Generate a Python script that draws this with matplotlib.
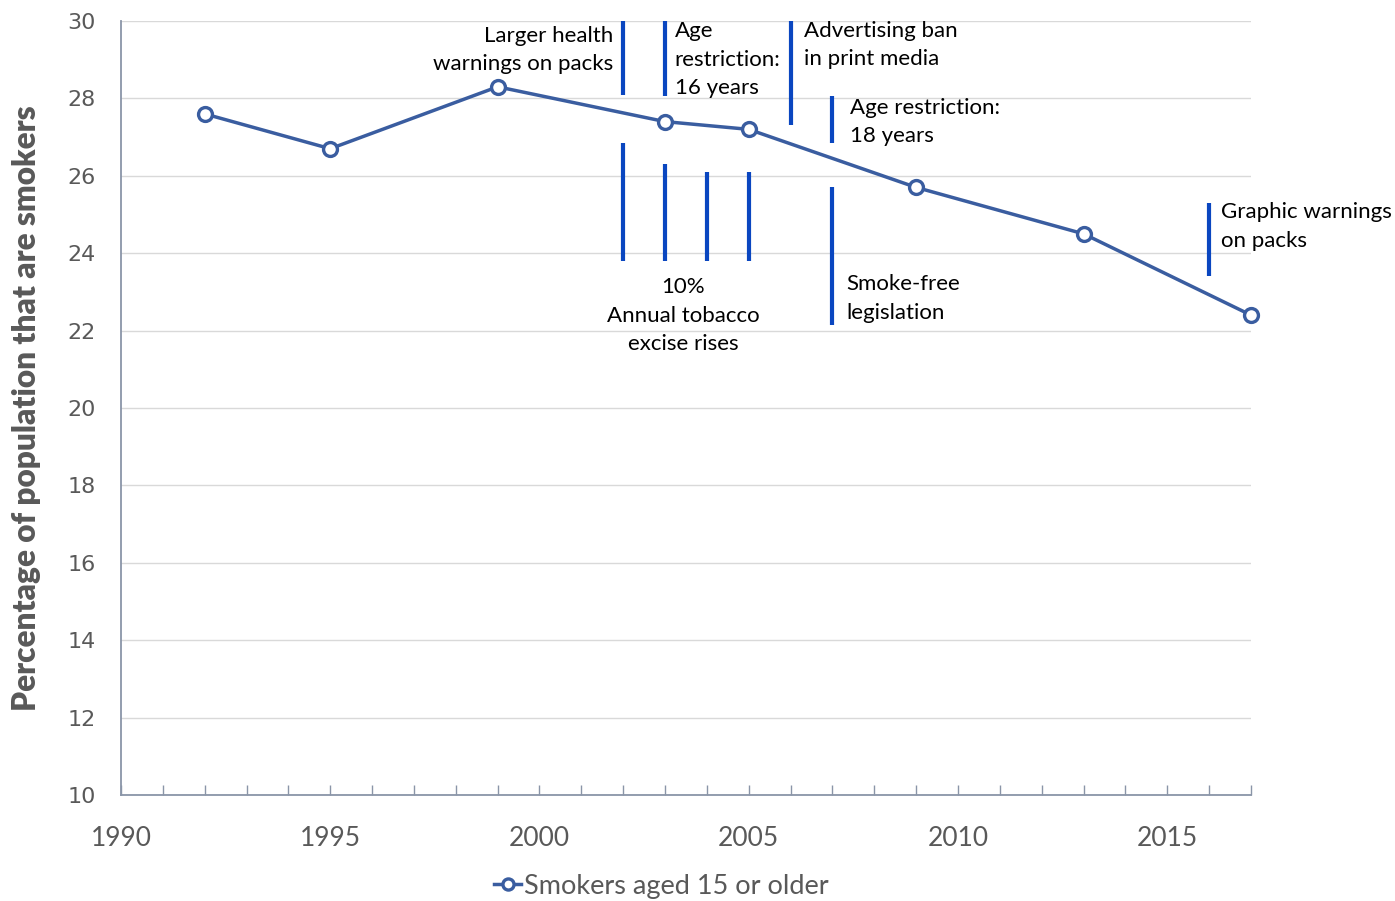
import matplotlib
matplotlib.use("Agg")
import matplotlib.pyplot as plt
from matplotlib.ticker import MultipleLocator

# smoking prevalence, people aged 15+
years = [1992, 1995, 1999, 2003, 2005, 2009, 2013, 2017]
smokers = [27.6, 26.7, 28.3, 27.4, 27.2, 25.7, 24.5, 22.4]

# policy markers: year, bottom, top of the bar
policy_years = [2002, 2003, 2006, 2007, 2002, 2003, 2004, 2005, 2007, 2016]
policy_lo = [28.1, 28.05, 27.3, 26.85, 23.8, 23.8, 23.8, 23.8, 22.15, 23.4]
policy_hi = [30.0, 30.0, 30.0, 28.05, 26.85, 26.3, 26.1, 26.1, 25.7, 25.3]

# policy labels: text, x, y, alignment
labels = ["Larger health\nwarnings on packs", "Age\nrestriction:\n16 years",
          "Advertising ban\nin print media", "Age restriction:\n18 years",
          "10%\nAnnual tobacco\nexcise rises", "Smoke-free\nlegislation",
          "Graphic warnings\non packs"]
label_x = [2001.77, 2003.23, 2006.33, 2007.41, 2003.44, 2007.34, 2016.29]
label_y = [29.25, 29.0, 29.38, 27.39, 22.38, 22.83, 24.69]
label_ha = ["right", "left", "left", "left", "center", "left", "left"]

font = ["Lato", "DejaVu Sans"]
grey = "#595959"
axis_col = "#8a95a8"

fig = plt.figure(figsize=(13.95, 9.01), dpi=100)
ax = fig.add_axes([0.0867, 0.1176, 0.8101, 0.8591])

ax.plot(years, smokers, color="#3a5da0", lw=2.5, marker="o", ms=10,
        mfc="white", mec="#3a5da0", mew=2.4, label="Smokers aged 15 or older",
        zorder=4, clip_on=False)

ax.vlines(policy_years, policy_lo, policy_hi, color="#0a46c0", lw=3, zorder=3,
          clip_on=False)

for txt, x, y, ha in zip(labels, label_x, label_y, label_ha):
    ax.text(x, y, txt, ha=ha, va="center", multialignment=ha, fontsize=16,
            family=font, color="black", linespacing=1.53)

ax.set_xlim(1990, 2017)
ax.set_ylim(10, 30)
ax.xaxis.set_major_locator(MultipleLocator(5))
ax.xaxis.set_minor_locator(MultipleLocator(1))
ax.yaxis.set_major_locator(MultipleLocator(2))

ax.grid(axis="y", color="#d9d9d9", lw=1)
ax.set_axisbelow(True)
for s in ["top", "right"]:
    ax.spines[s].set_visible(False)
for s in ["left", "bottom"]:
    ax.spines[s].set_color(axis_col)
    ax.spines[s].set_linewidth(1.3)

ax.tick_params(axis="x", which="both", direction="in", length=7, color=axis_col,
               width=1, pad=22, labelsize=19, labelcolor=grey)
ax.tick_params(axis="y", length=0, pad=18, labelsize=16, labelcolor=grey)
for lab in ax.get_xticklabels():
    lab.set_family(font)

ax.set_ylabel("Percentage of population that are smokers", fontsize=22.8,
              fontweight="heavy", color=grey, family=font, labelpad=19)

fig.legend(loc="center", bbox_to_anchor=(0.474, 0.0166), frameon=False,
           prop={"family": font, "size": 19.5}, labelcolor=grey,
           handlelength=1.0, handletextpad=0.1, markerscale=0.8)

fig.savefig("out.png", dpi=100)
